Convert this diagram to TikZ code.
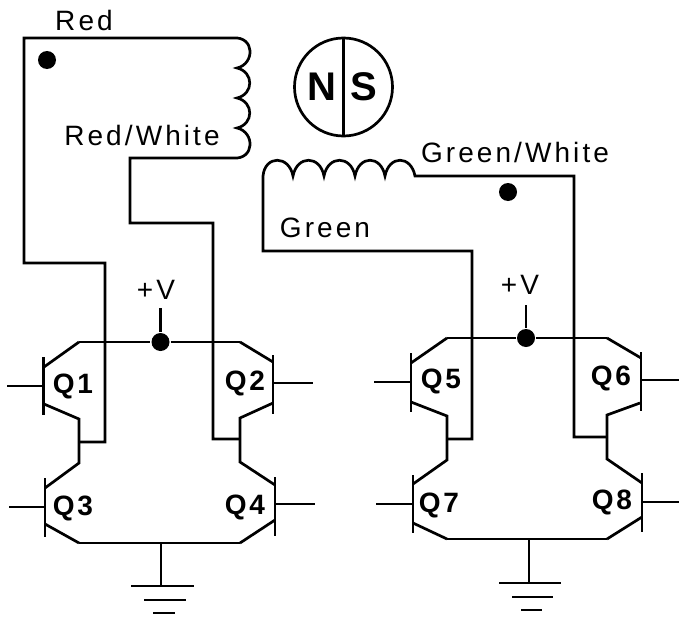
\documentclass[tikz,border=0pt]{standalone}
\usepackage{fontspec}
\setmainfont{Liberation Sans}
\newfontfamily\wirefont[LetterSpace=11]{Liberation Sans}
\newfontfamily\qfont[LetterSpace=10]{Liberation Sans Bold}
\newfontfamily\polefont{Liberation Sans Bold}
\tikzset{
  wirelabel/.style={inner sep=0pt,font=\fontsize{28}{32}\wirefont},
  qlabel/.style={inner sep=0pt,font=\fontsize{28}{32}\qfont},
  polelabel/.style={inner sep=0pt,font=\fontsize{40}{44}\polefont},
  joint/.style={circle,fill=black,inner sep=0pt,minimum size=18pt},
  wire/.style={line width=2.7pt}
}
\begin{document}
\begin{tikzpicture}[x=1pt,y=-1pt,wire]
\useasboundingbox (0,0) rectangle (679,618);

\node[wirelabel] (red) at (84,20) {Red};
\node[wirelabel] (redwhite) at (142,135) {Red/White};
\node[wirelabel] (green) at (325,228) {Green};
\node[wirelabel] (greenwhite) at (515,152) {Green/White};
\node[wirelabel] (vleft) at (156,290) {+V};
\node[wirelabel] (vright) at (520,285) {+V};

\node[qlabel] (q1) at (73,386) {Q1};
\node[qlabel] (q2) at (245,383) {Q2};
\node[qlabel] (q3) at (73,508) {Q3};
\node[qlabel] (q4) at (245,507) {Q4};
\node[qlabel] (q5) at (441,381) {Q5};
\node[qlabel] (q6) at (611,378) {Q6};
\node[qlabel] (q7) at (439,505) {Q7};
\node[qlabel] (q8) at (612,502) {Q8};

\node[joint] (phaseleft) at (47,60) {};
\node[joint] (phaseright) at (508,192) {};
\node[joint] (railleft) at (160.5,342) {};
\node[joint] (railright) at (526,338) {};

% rotor
\node[circle,draw,line width=2.7pt,minimum size=98pt,inner sep=0pt] (rotor) at (343.5,87) {};
\draw (rotor.north) -- (rotor.south);
\node[polelabel] (north) at (322,87) {N};
\node[polelabel] (south) at (364,87) {S};

% left bridge
\coordinate (tl) at (79,342);
\coordinate (tr) at (240,342);
\coordinate (bl) at (79,543);
\coordinate (br) at (240,543);
\coordinate (ml) at (79,442);
\coordinate (mr) at (240,439);
\coordinate (ql) at (79,419);
\coordinate (qr) at (240,418);
\coordinate (sl) at (79,463);
\coordinate (sr) at (240,462);
\draw (tl) -- (railleft) -- (tr);
\draw (bl) -- (br);
\draw (railleft) -- (160.5,308);

\draw (43.5,357) -- (43.5,415);
\draw (7,386) -- (43.5,386);
\draw (tl) -- (44,367);
\draw (44,404) -- (ql) -- (sl) -- (45,488);
\draw (45,478) -- (45,537);
\draw (9,507) -- (45,507);
\draw (45,524) -- (bl);

\draw (273,355) -- (273,414);
\draw (273,383) -- (313,383);
\draw (tr) -- (273,362);
\draw (273,403) -- (qr) -- (sr) -- (275,485);
\draw (275,477) -- (275,536);
\draw (275,504) -- (315,504);
\draw (275,520) -- (br);

% left winding
\coordinate (wa) at (233,38);
\coordinate (wb) at (237,68);
\coordinate (wc) at (237,98);
\coordinate (wd) at (237,128);
\coordinate (we) at (233,158);
\draw (ml) -- (105,442) -- (105,263) -- (24,263) -- (24,38) -- (wa)
  .. controls (255,36) and (255,64) .. (wb)
  .. controls (254,72) and (254,94) .. (wc)
  .. controls (254,102) and (254,124) .. (wd)
  .. controls (255,132) and (255,160) .. (we)
  -- (130,158) -- (130,223) -- (213,223) -- (213,439) -- (mr);

% ground left
\coordinate (gl) at (161,586);
\draw (161,543) -- (gl);
\draw (131,586) -- (194,586);
\draw (144,600) -- (186,600);
\draw (153,613) -- (175,613);

% right bridge
\coordinate (tl2) at (447,338);
\coordinate (tr2) at (607,338);
\coordinate (bl2) at (447,539);
\coordinate (br2) at (607,539);
\coordinate (ml2) at (447,439);
\coordinate (mr2) at (607,437);
\coordinate (ql2) at (447,416);
\coordinate (qr2) at (607,415);
\coordinate (sl2) at (447,460);
\coordinate (sr2) at (607,459);
\draw (tl2) -- (railright) -- (tr2);
\draw (bl2) -- (br2);
\draw (railright) -- (526,305);

\draw (411,353) -- (411,412);
\draw (374,382) -- (411,382);
\draw (tl2) -- (411,363);
\draw (411,402) -- (ql2) -- (sl2) -- (413,484);
\draw (413,475) -- (413,533);
\draw (376,504) -- (413,504);
\draw (413,523) -- (bl2);

\draw (641,352) -- (641,411);
\draw (641,380) -- (679,380);
\draw (tr2) -- (641,358);
\draw (640,403) -- (qr2) -- (sr2) -- (642,483);
\draw (642,473) -- (642,532);
\draw (642,502) -- (679,502);
\draw (642,517) -- (br2);

% right winding
\coordinate (va) at (263,176);
\coordinate (vb) at (293,176);
\coordinate (vc) at (324,176);
\coordinate (vd) at (355,176);
\coordinate (ve) at (385,176);
\coordinate (vf) at (415,176);
\draw (ml2) -- (472,439) -- (472,251) -- (263,251) -- (va)
  .. controls (265,155) and (289,155) .. (vb)
  .. controls (297,155) and (320,155) .. (vc)
  .. controls (328,155) and (351,155) .. (vd)
  .. controls (359,155) and (381,155) .. (ve)
  .. controls (389,155) and (411,155) .. (vf)
  -- (574,176) -- (574,437) -- (mr2);

% ground right
\coordinate (gr) at (529,583);
\draw (529,539) -- (gr);
\draw (499,583) -- (561,583);
\draw (512,597) -- (553,597);
\draw (521,610) -- (542,610);
\end{tikzpicture}
\end{document}
